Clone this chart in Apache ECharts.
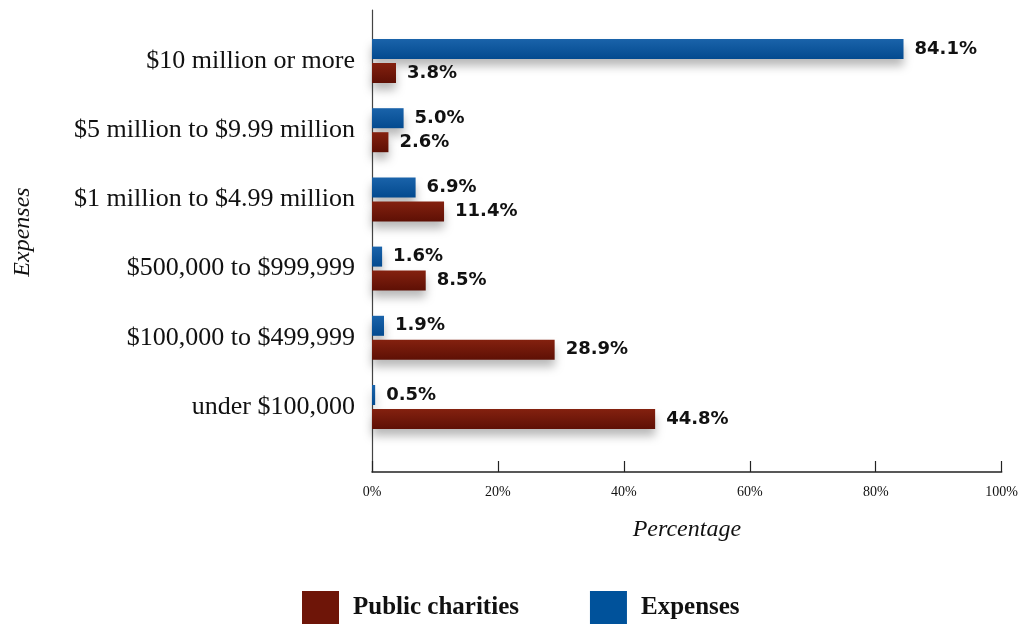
<!DOCTYPE html>
<html>
<head>
<meta charset="utf-8">
<script src="https://cdn.jsdelivr.net/npm/echarts@6/dist/echarts.min.js"></script>
<style>
  html, body { margin: 0; padding: 0; background: #fff; }
  #chart { width: 1021px; height: 625px; }
</style>
</head>
<body>
<div id="chart"></div>
<script>
// Expense brackets, listed from bottom to top of the chart
const categories = [
  'under $100,000',
  '$100,000 to $499,999',
  '$500,000 to $999,999',
  '$1 million to $4.99 million',
  '$5 million to $9.99 million',
  '$10 million or more'
];
const publicCharities = [44.8, 28.9, 8.5, 11.4, 2.6, 3.8];
const expenses = [0.5, 1.9, 1.6, 6.9, 5.0, 84.1];
const xTicks = [0, 20, 40, 60, 80, 100];

const SERIF = '"Liberation Serif", "DejaVu Serif", serif';
const SANS = '"DejaVu Sans", "Noto Sans", sans-serif';

const RED = '#6e1508';
const BLUE = '#00529b';

const chart = echarts.init(document.getElementById('chart'), null, { renderer: 'canvas' });

function barGradient(top, bottom) {
  return new echarts.graphic.LinearGradient(0, 0, 0, 1, [
    { offset: 0, color: top },
    { offset: 1, color: bottom }
  ]);
}

const valueLabel = {
  show: true,
  position: 'right',
  distance: 11,
  formatter: p => p.value.toFixed(1) + '%',
  fontFamily: SANS,
  fontWeight: 'bold',
  fontSize: 18,
  color: '#111'
};

chart.setOption({
  animation: false,
  backgroundColor: '#fff',
  legend: {
    bottom: 1,
    left: 302,
    padding: 0,
    itemWidth: 37,
    itemHeight: 33,
    itemGap: 71,
    icon: 'rect',
    data: [
      { name: 'Public charities', itemStyle: { color: RED } },
      { name: 'Expenses', itemStyle: { color: BLUE } }
    ],
    textStyle: {
      fontFamily: SERIF,
      fontWeight: 'bold',
      fontSize: 25,
      color: '#111',
      padding: [0, 0, 0, 9]
    }
  },
  grid: [
    // bars
    { left: 372, right: 17, top: 26.4, bottom: 183.4 },
    // axis frame
    { left: 372, right: 17, top: 10, bottom: 153 }
  ],
  xAxis: [
    { gridIndex: 0, type: 'value', min: 0, max: 100, show: false },
    {
      gridIndex: 1, type: 'value', min: xTicks[0], max: xTicks[xTicks.length - 1], interval: 20,
      splitLine: { show: false },
      axisLine: { show: true, lineStyle: { color: '#222', width: 1.5 } },
      axisTick: { show: true, inside: true, length: 11, lineStyle: { color: '#222', width: 1.2 } },
      axisLabel: { formatter: '{value}%', fontFamily: SERIF, fontSize: 14, color: '#111', margin: 13 },
      name: 'Percentage',
      nameLocation: 'middle',
      nameGap: 46,
      nameTextStyle: { fontFamily: SERIF, fontStyle: 'italic', fontSize: 24, color: '#111' }
    }
  ],
  yAxis: [
    {
      gridIndex: 0, type: 'category', data: categories,
      axisLine: { show: false },
      axisTick: { show: false },
      axisLabel: { fontFamily: SERIF, fontSize: 26, color: '#111', margin: 17 }
    },
    {
      gridIndex: 1, type: 'category', data: categories,
      axisLine: { show: true, lineStyle: { color: '#444', width: 1.2 } },
      axisTick: { show: false },
      axisLabel: { show: false }
    }
  ],
  graphic: [
    {
      type: 'text',
      x: 23, y: 232,
      rotation: Math.PI / 2,
      style: {
        text: 'Expenses',
        fontFamily: SERIF,
        fontStyle: 'italic',
        fontSize: 24,
        fill: '#111',
        align: 'center',
        verticalAlign: 'middle'
      }
    }
  ],
  series: [
    {
      name: 'Expenses',
      type: 'bar',
      xAxisIndex: 0, yAxisIndex: 0,
      data: expenses,
      barWidth: 20,
      barGap: '20%',
      color: BLUE,
      itemStyle: {
        color: barGradient('#1a63aa', '#034a8f'),
        shadowColor: 'rgba(0,0,0,0.28)',
        shadowBlur: 10,
        shadowOffsetY: 7
      },
      label: valueLabel
    },
    {
      name: 'Public charities',
      type: 'bar',
      xAxisIndex: 0, yAxisIndex: 0,
      data: publicCharities,
      barWidth: 20,
      barGap: '20%',
      color: RED,
      itemStyle: {
        color: barGradient('#84210f', '#5e1005'),
        shadowColor: 'rgba(0,0,0,0.28)',
        shadowBlur: 10,
        shadowOffsetY: 7
      },
      label: valueLabel
    }
  ]
});
</script>
</body>
</html>
